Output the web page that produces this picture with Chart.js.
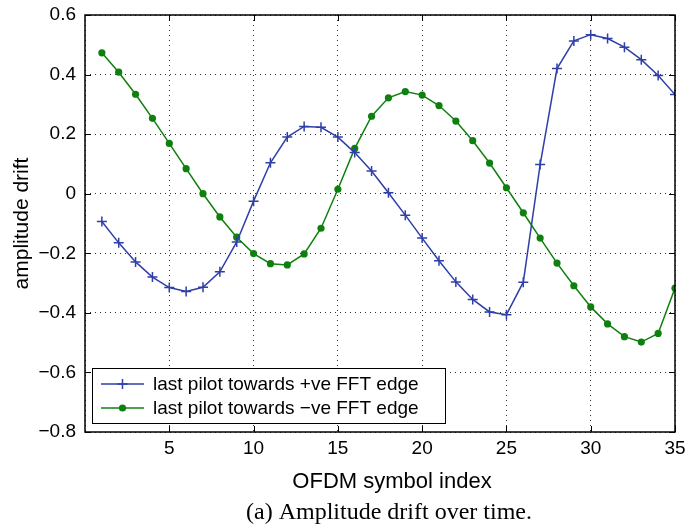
<!DOCTYPE html>
<html>
<head>
<meta charset="utf-8">
<script src="https://cdn.jsdelivr.net/npm/chart.js@4/dist/chart.umd.min.js"></script>
<style>
  html, body { margin: 0; padding: 0; background: #fff; }
  #wrap { width: 686px; height: 524px; position: relative; }
</style>
</head>
<body>
<div id="wrap"><canvas id="chart" width="686" height="524"></canvas></div>
<script>
// data
const symbolIndex = [1, 2, 3, 4, 5, 6, 7, 8, 9, 10, 11, 12, 13, 14, 15, 16, 17, 18, 19, 20,
    21, 22, 23, 24, 25, 26, 27, 28, 29, 30, 31, 32, 33, 34, 35];
const plusEdge = [-0.093, -0.165, -0.229, -0.280, -0.315, -0.328, -0.314, -0.262, -0.162, -0.025,
    0.104, 0.190, 0.226, 0.223, 0.190, 0.138, 0.076, 0.003, -0.072, -0.149,
    -0.225, -0.296, -0.355, -0.397, -0.406, -0.297, 0.098, 0.420, 0.513, 0.534,
    0.521, 0.492, 0.450, 0.397, 0.333];
const minusEdge = [0.473, 0.408, 0.334, 0.253, 0.169, 0.084, 0.000, -0.078, -0.146, -0.201,
    -0.235, -0.239, -0.202, -0.116, 0.015, 0.152, 0.260, 0.322, 0.343, 0.331,
    0.296, 0.244, 0.178, 0.103, 0.020, -0.064, -0.149, -0.233, -0.309, -0.380,
    -0.437, -0.480, -0.498, -0.469, -0.317];
const seriesNames = ['last pilot towards +ve FFT edge', 'last pilot towards \u2212ve FFT edge'];
const xTicks = [5, 10, 15, 20, 25, 30, 35];
const yTicks = [-0.8, -0.6, -0.4, -0.2, 0, 0.2, 0.4, 0.6];
const xTitle = 'OFDM symbol index';
const yTitle = 'amplitude drift';
const caption = '(a) Amplitude drift over time.';

const BLUE = '#2f3fa8';
const GREEN = '#0f800f';
const FONT = "'Liberation Sans', Arial, sans-serif";

function toPoints(ys) {
    return symbolIndex.map((x, i) => ({ x: x, y: ys[i] }));
}

function fmtY(v) {
    if (Math.abs(v) < 1e-9) return '0';
    return v.toFixed(1).replace('-', '\u2212');
}

// frame, inward tick marks, legend box, x label and caption
const matlabLook = {
    id: 'matlabLook',
    afterDraw(chart) {
        const ctx = chart.ctx;
        const a = chart.chartArea;
        const xs = chart.scales.x;
        const ys = chart.scales.y;
        ctx.save();
        ctx.strokeStyle = '#000';
        ctx.lineWidth = 1;
        const tl = 6;
        ctx.beginPath();
        xTicks.forEach(t => {
            const px = Math.round(xs.getPixelForValue(t)) + 0.5;
            ctx.moveTo(px, a.bottom); ctx.lineTo(px, a.bottom - tl);
            ctx.moveTo(px, a.top); ctx.lineTo(px, a.top + tl);
        });
        yTicks.forEach(t => {
            const py = Math.round(ys.getPixelForValue(t)) + 0.5;
            ctx.moveTo(a.left, py); ctx.lineTo(a.left + tl, py);
            ctx.moveTo(a.right, py); ctx.lineTo(a.right - tl, py);
        });
        ctx.stroke();

        ctx.lineWidth = 1.5;
        ctx.strokeRect(a.left, a.top, a.right - a.left, a.bottom - a.top);

        // legend
        const lx = 92, ly = 368, lw = 353, lh = 55;
        ctx.fillStyle = '#fff';
        ctx.fillRect(lx, ly, lw, lh);
        ctx.lineWidth = 1;
        ctx.strokeRect(lx + 0.5, ly + 0.5, lw, lh);
        const rows = [
            { c: BLUE, y: ly + 16, marker: 'plus', text: seriesNames[0] },
            { c: GREEN, y: ly + 40, marker: 'dot', text: seriesNames[1] }
        ];
        ctx.font = '19px ' + FONT;
        ctx.textBaseline = 'middle';
        rows.forEach(r => {
            ctx.strokeStyle = r.c;
            ctx.fillStyle = r.c;
            ctx.lineWidth = 1.5;
            ctx.beginPath();
            ctx.moveTo(101, r.y); ctx.lineTo(144, r.y);
            ctx.stroke();
            if (r.marker === 'plus') {
                ctx.beginPath();
                ctx.moveTo(117.5, r.y); ctx.lineTo(127.5, r.y);
                ctx.moveTo(122.5, r.y - 5); ctx.lineTo(122.5, r.y + 5);
                ctx.stroke();
            } else {
                ctx.beginPath();
                ctx.arc(122.5, r.y, 3.6, 0, Math.PI * 2);
                ctx.fill();
            }
            ctx.fillStyle = '#000';
            ctx.textAlign = 'left';
            ctx.fillText(r.text, 153, r.y + 1);
        });

        // x label, sits a little right of the axis centre like the original
        ctx.fillStyle = '#000';
        ctx.textAlign = 'center';
        ctx.textBaseline = 'alphabetic';
        ctx.font = '22px ' + FONT;
        ctx.fillText(xTitle, 392, 488);

        // caption under the axes
        ctx.font = "24px 'Liberation Serif', 'Times New Roman', serif";
        ctx.fillText(caption, 389, 519);
        ctx.restore();
    }
};

const ctx = document.getElementById('chart').getContext('2d');
new Chart(ctx, {
    type: 'line',
    data: {
        datasets: [
            {
                label: seriesNames[0],
                data: toPoints(plusEdge),
                borderColor: BLUE,
                backgroundColor: BLUE,
                borderWidth: 1.5,
                pointStyle: 'cross',
                pointRadius: 5,
                pointBorderWidth: 1.5,
                tension: 0
            },
            {
                label: seriesNames[1],
                data: toPoints(minusEdge),
                borderColor: GREEN,
                backgroundColor: GREEN,
                borderWidth: 1.5,
                pointStyle: 'circle',
                pointRadius: 3.6,
                pointBorderWidth: 0,
                tension: 0
            }
        ]
    },
    options: {
        responsive: false,
        animation: false,
        layout: { padding: { top: 15, right: 11, bottom: 32, left: 0 } },
        plugins: {
            legend: { display: false },
            tooltip: { enabled: false }
        },
        scales: {
            x: {
                type: 'linear',
                min: 0,
                max: 35,
                afterBuildTicks: s => { s.ticks = [0].concat(xTicks).map(v => ({ value: v })); },
                afterFit: s => {
                    s.height = 60;
                    s.paddingLeft = 0;
                    s.paddingRight = 0;
                },
                ticks: {
                    color: '#000',
                    font: { family: FONT, size: 19 },
                    padding: 5,
                    maxRotation: 0,
                    callback: v => (v === 0 ? '' : String(v))
                },
                grid: { color: 'rgba(0,0,0,0.8)', lineWidth: 1, drawTicks: false },
                border: { display: false, dash: [1, 4] }
            },
            y: {
                type: 'linear',
                min: -0.8,
                max: 0.6,
                afterBuildTicks: s => { s.ticks = yTicks.map(v => ({ value: v })); },
                afterFit: s => {
                    s.width = 85;
                    s.paddingTop = 0;
                    s.paddingBottom = 0;
                },
                ticks: {
                    color: '#000',
                    font: { family: FONT, size: 19 },
                    padding: 9,
                    callback: v => fmtY(v)
                },
                grid: { color: 'rgba(0,0,0,0.8)', lineWidth: 1, drawTicks: false },
                border: { display: false, dash: [1, 4] },
                title: {
                    display: true,
                    text: yTitle,
                    color: '#000',
                    font: { family: FONT, size: 21 },
                    padding: { top: 10, bottom: 0 }
                }
            }
        }
    },
    plugins: [matlabLook]
});
</script>
</body>
</html>
